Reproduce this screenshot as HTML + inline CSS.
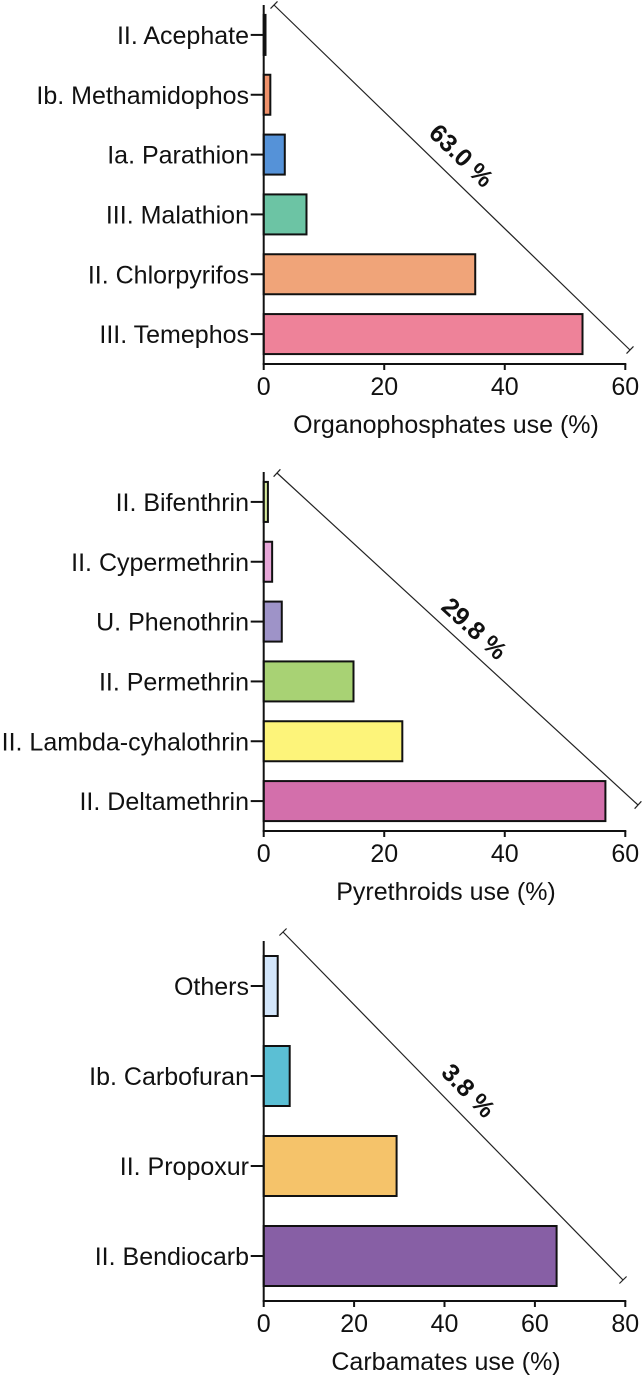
<!DOCTYPE html>
<html><head><meta charset="utf-8">
<style>
html,body{margin:0;padding:0;background:#fff;}
svg{display:block;font-family:"Liberation Sans",Arial,sans-serif;}
</style></head>
<body>
<svg id="chart" width="644" height="1379" viewBox="0 0 644 1379" xmlns="http://www.w3.org/2000/svg"></svg>
<script>
// Panel 1: Organophosphates
const opCategories = ["II. Acephate","Ib. Methamidophos","Ia. Parathion","III. Malathion","II. Chlorpyrifos","III. Temephos"];
const opValues = [0.3, 1.1, 3.5, 7.1, 35.1, 52.9];
const opTicks = [0, 20, 40, 60];
const opShare = "63.0 %";
// Panel 2: Pyrethroids
const pyCategories = ["II. Bifenthrin","II. Cypermethrin","U. Phenothrin","II. Permethrin","II. Lambda-cyhalothrin","II. Deltamethrin"];
const pyValues = [0.7, 1.4, 3.0, 14.9, 23.0, 56.7];
const pyTicks = [0, 20, 40, 60];
const pyShare = "29.8 %";
// Panel 3: Carbamates
const caCategories = ["Others","Ib. Carbofuran","II. Propoxur","II. Bendiocarb"];
const caValues = [3.1, 5.75, 29.4, 64.8];
const caTicks = [0, 20, 40, 60, 80];
const caShare = "3.8 %";

const NS = "http://www.w3.org/2000/svg";
const svg = document.getElementById("chart");
function mk(tag, attrs, parent){
  const e = document.createElementNS(NS, tag);
  for (const k in attrs) e.setAttribute(k, attrs[k]);
  (parent||svg).appendChild(e);
  return e;
}

const panels = [
  {key:"organophosphates", cats:opCategories, vals:opValues, ticks:opTicks, share:opShare,
   title:"Organophosphates use (%)", colors:["#1a1a1a","#f0916a","#5592d8","#6cc4a4","#f0a479","#ee8299"],
   top:5, bottom:364, barH:40, max:60,
   line:[274,5,630,350], lab:[461,156]},
  {key:"pyrethroids", cats:pyCategories, vals:pyValues, ticks:pyTicks, share:pyShare,
   title:"Pyrethroids use (%)", colors:["#d4e89a","#e7a6d8","#9e93c8","#a8d274","#fdf47a","#d36fab"],
   top:472, bottom:831, barH:40, max:60,
   line:[277,473,638,805], lab:[474,629]},
  {key:"carbamates", cats:caCategories, vals:caValues, ticks:caTicks, share:caShare,
   title:"Carbamates use (%)", colors:["#d3e6fb","#5bbfd4","#f5c36a","#875fa5"],
   top:941, bottom:1301, barH:60, max:80,
   line:[283,932,623,1280], lab:[468,1091]}
];

const X0 = 263.7, X1 = 625.3;
panels.forEach(p => {
  const g = mk("g", {});
  
  
  const x = v => X0 + (v / p.max) * (X1 - X0);
  const n = p.cats.length;
  const step = (p.bottom - p.top) / n;
  const yc = i => p.top + step * (i + 0.5);

  // bars
  p.vals.forEach((v, i) => {
    const r = mk("rect", {x:X0, y:yc(i) - p.barH/2, width:Math.max(x(v) - X0, 1), height:p.barH,
      fill:p.colors[i], stroke:"#111", "stroke-width":2}, g);
    
    
  });

  // y axis
  const ya = mk("line", {x1:X0, y1:p.top, x2:X0, y2:p.bottom, stroke:"#111", "stroke-width":2}, g);
  
  
  p.cats.forEach((c, i) => {
    const t = mk("line", {x1:X0 - 13, y1:yc(i), x2:X0, y2:yc(i), stroke:"#111", "stroke-width":2}, g);
    
    
    const tx = mk("text", {x:249, y:yc(i) + 9, "text-anchor":"end", "font-size":25, fill:"#111"}, g);
    tx.textContent = c;
    
    
  });

  // x axis
  const xa = mk("line", {x1:X0 - 1, y1:p.bottom, x2:X1 + 1, y2:p.bottom, stroke:"#111", "stroke-width":2}, g);
  
  
  p.ticks.forEach(tv => {
    const t = mk("line", {x1:x(tv), y1:p.bottom, x2:x(tv), y2:p.bottom + 6, stroke:"#111", "stroke-width":2}, g);
    
    
    const tx = mk("text", {x:x(tv), y:p.bottom + 31, "text-anchor":"middle", "font-size":25, fill:"#111"}, g);
    tx.textContent = tv;
    
    
  });
  const ti = mk("text", {x:446, y:p.bottom + 69, "text-anchor":"middle", "font-size":25, fill:"#111"}, g);
  ti.textContent = p.title;
  
  

  // diagonal share line with caps
  const [ax, ay, bx, by] = p.line;
  const ang = Math.atan2(by - ay, bx - ax);
  const dl = mk("line", {x1:ax, y1:ay, x2:bx, y2:by, stroke:"#222", "stroke-width":1.2}, g);
  
  
  const px = -Math.sin(ang) * 5, py = Math.cos(ang) * 5;
  [[ax, ay], [bx, by]].forEach(([cx, cy]) => {
    const cp = mk("line", {x1:cx - px, y1:cy - py, x2:cx + px, y2:cy + py, stroke:"#222", "stroke-width":1.2}, g);
    
    
  });
  const deg = ang * 180 / Math.PI;
  const sl = mk("text", {x:p.lab[0], y:p.lab[1], "text-anchor":"middle", "dominant-baseline":"central",
    "font-size":25, "font-weight":"bold", fill:"#111",
    transform:`rotate(${deg.toFixed(1)} ${p.lab[0]} ${p.lab[1]})`}, g);
  sl.textContent = p.share;
  
  
});
</script>
</body></html>
